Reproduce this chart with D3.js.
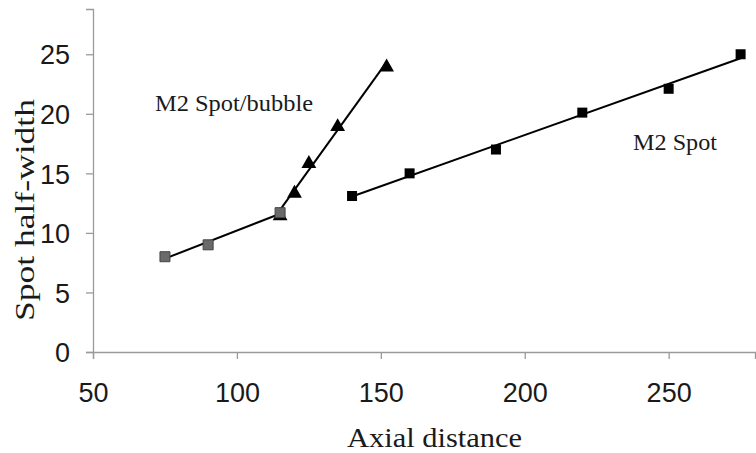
<!DOCTYPE html>
<html><head><meta charset="utf-8">
<script src="https://cdn.jsdelivr.net/npm/d3@7"></script>
<style>body{margin:0;background:#fff}</style>
</head><body>
<svg id="c" width="756" height="453"></svg>
<script>
// Data
const spotX = [140, 160, 190, 220, 250, 275];
const spotY = [13.1, 15.0, 17.0, 20.1, 22.1, 25.0];
const bubbleSqX = [75, 90, 115];
const bubbleSqY = [8.0, 9.0, 11.7];
const bubbleTriX = [115, 120, 125, 135, 152];
const bubbleTriY = [11.5, 13.4, 15.9, 19.0, 24.0];
const xTicks = [50, 100, 150, 200, 250];
const yTicks = [0, 5, 10, 15, 20, 25];
const xTitle = "Axial distance";
const yTitle = "Spot half-width";
const labelBubble = "M2 Spot/bubble";
const labelSpot = "M2 Spot";

const svg = d3.select("#c");
const x = d3.scaleLinear().domain([50, 280]).range([93, 755]);
const y = d3.scaleLinear().domain([0, 28.8]).range([352, 9]);
const axisColor = "#9a9a9a";

// axes
const gx = svg.append("g").attr("transform", `translate(0,${y(0)})`)
  .call(d3.axisBottom(x).tickValues(xTicks).tickSize(7).tickPadding(24).tickFormat(d3.format("d")));
const gy = svg.append("g").attr("transform", `translate(${x(50)},0)`)
  .call(d3.axisLeft(y).tickValues(yTicks).tickSize(7).tickPadding(16).tickFormat(d3.format("d")));
[gx, gy].forEach(g => {
  g.select(".domain").attr("stroke", axisColor).attr("stroke-width", 1.3);
  g.selectAll(".tick line").attr("stroke", axisColor).attr("stroke-width", 1.3);
  g.selectAll(".tick text").attr("fill", "#1a1a1a")
    .style("font-family", "'Liberation Sans', Arial, sans-serif").style("font-size", "27px");
});
gy.selectAll(".tick text").attr("dy", "0.36em");

// least-squares trend line
function fit(xs, ys) {
  const mx = d3.mean(xs), my = d3.mean(ys);
  const b = d3.sum(xs.map((v, i) => (v - mx) * (ys[i] - my))) / d3.sum(xs.map(v => (v - mx) ** 2));
  const a = my - b * mx;
  const x0 = d3.min(xs), x1 = d3.max(xs);
  return [[x0, a + b * x0], [x1, a + b * x1]];
}
const line = d3.line().x(d => x(d[0])).y(d => y(d[1]));
[[bubbleSqX, bubbleSqY], [bubbleTriX, bubbleTriY], [spotX, spotY]].forEach(([xs, ys]) => {
  svg.append("path").attr("d", line(fit(xs, ys))).attr("fill", "none")
    .attr("stroke", "#000").attr("stroke-width", 2);
});

// markers
const sq = d3.symbol().type(d3.symbolSquare).size(100);
const tri = d3.symbol().type(d3.symbolTriangle).size(95);
svg.append("g").selectAll("path").data(bubbleTriX.map((v, i) => [v, bubbleTriY[i]])).join("path")
  .attr("d", tri).attr("transform", d => `translate(${x(d[0])},${y(d[1]) + 1})`).attr("fill", "#000");
svg.append("g").selectAll("path").data(bubbleSqX.map((v, i) => [v, bubbleSqY[i]])).join("path")
  .attr("d", sq).attr("transform", d => `translate(${x(d[0])},${y(d[1])})`)
  .attr("fill", "#6a6a6a").attr("stroke", "#444").attr("stroke-width", 1);
svg.append("g").selectAll("path").data(spotX.map((v, i) => [v, spotY[i]])).join("path")
  .attr("d", sq).attr("transform", d => `translate(${x(d[0])},${y(d[1])})`).attr("fill", "#000");

// texts
const serif = "'Liberation Serif', 'Times New Roman', serif";
svg.append("text").attr("x", 155).attr("y", 111).text(labelBubble)
  .style("font-family", serif).style("font-size", "23px").attr("fill", "#1a1a1a")
  .attr("textLength", 158).attr("lengthAdjust", "spacingAndGlyphs");
svg.append("text").attr("x", 633).attr("y", 150).text(labelSpot)
  .style("font-family", serif).style("font-size", "23px").attr("fill", "#1a1a1a")
  .attr("textLength", 84).attr("lengthAdjust", "spacingAndGlyphs");
svg.append("text").attr("x", 347).attr("y", 447).text(xTitle)
  .style("font-family", serif).style("font-size", "27px").attr("fill", "#1a1a1a")
  .attr("textLength", 175).attr("lengthAdjust", "spacingAndGlyphs");
svg.append("text").attr("transform", "translate(34,321) rotate(-90)").text(yTitle)
  .style("font-family", serif).style("font-size", "27px").attr("fill", "#1a1a1a")
  .attr("textLength", 222).attr("lengthAdjust", "spacingAndGlyphs");
</script>
</body></html>
